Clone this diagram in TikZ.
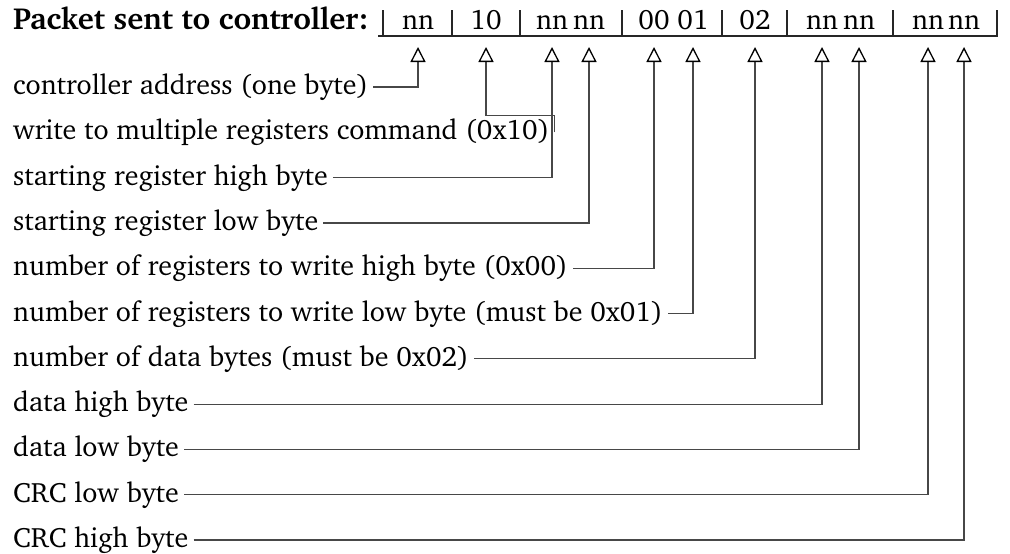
\documentclass[tikz,border=0pt]{standalone}
\usepackage[T1]{fontenc}
\usepackage{charter}
\usetikzlibrary{arrows.meta}
\begin{document}
\begin{tikzpicture}[x=1pt,y=-1pt, font=\fontsize{28}{32}\selectfont]
\tikzset{
  lbl/.style={anchor=base west, inner sep=0pt},
  cell/.style={anchor=base, inner sep=0pt},
  bar/.style={draw=black!85, line width=1.3pt},
  conn/.style={draw=black!72, line width=1.2pt, -{Triangle[open, width=15pt, length=15pt, line width=1.3pt, color=black]}}
}
\useasboundingbox (0,0) rectangle (1010,554);
% header
\node[lbl, font=\fontsize{30.5}{34}\selectfont\bfseries] (title) at (13,30) {Packet sent to controller:};
\foreach \n/\x/\t in {1/418/nn,2/486/10,3/552/nn,4/589/nn,5/654/00,6/693/01,7/755/02,8/822/nn,9/859/nn,10/928/nn,11/964/nn}
  \node[cell] (b\n) at (\x,30) {\t};
\foreach \x in {383,452,520,622,722,787,893,997} \draw[bar] (\x,10) -- (\x,36);
\draw[bar] (378,36) -- (998,36);
% targets
\foreach \n/\x in {1/418,2/486,3/552,4/589,5/654,6/693,7/755,8/822,9/859,10/928,11/964}
  \coordinate (t\n) at (\x,47);
% rows
\foreach \n/\t in {1/controller address (one byte),
                   2/write to multiple registers command (0x10),
                   3/starting register high byte,
                   4/starting register low byte,
                   5/number of registers to write high byte (0x00),
                   6/number of registers to write low byte (must be 0x01),
                   7/number of data bytes (must be 0x02),
                   8/data high byte,
                   9/data low byte,
                   10/CRC low byte,
                   11/CRC high byte}
  \node[lbl] (r\n) at (13,{94.5+45.3*(\n-1)}) {\t};
\foreach \n in {1,3,4,5,6,7,8,9,10,11}
  \draw[conn] ([shift={(5pt,7.5pt)}]r\n.base east) -| (t\n);
\draw[conn] ([shift={(5pt,7.5pt)}]r2.base east) -- ++(0pt,17pt) -| (t2);
\end{tikzpicture}
\end{document}
